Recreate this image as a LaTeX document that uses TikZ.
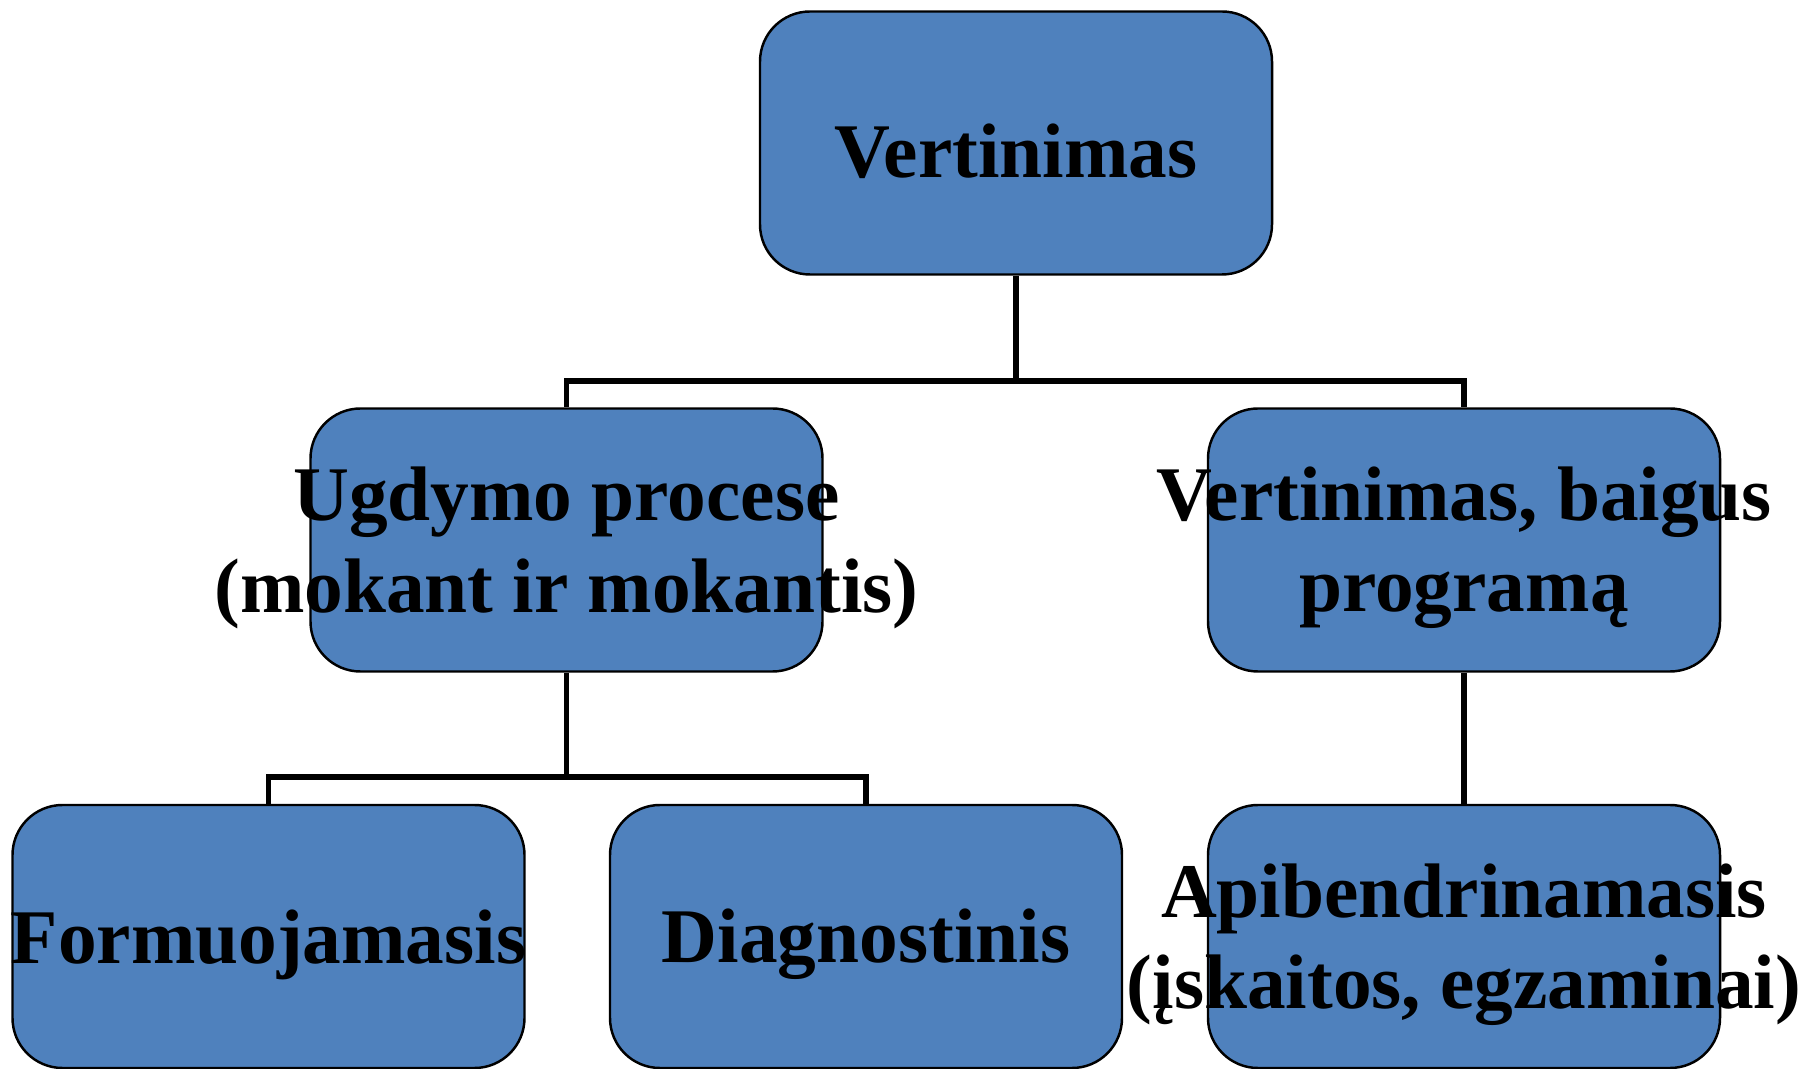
\documentclass[tikz,border=0pt]{standalone}
\usepackage{fontspec}
\setmainfont{Liberation Serif}
\usetikzlibrary{calc}
\definecolor{boxblue}{HTML}{4F81BD}
\tikzset{
  evalbox/.style={draw=black, line width=0.7pt, fill=boxblue, rounded corners=0.5cm,
    minimum width=5.12cm, minimum height=2.63cm, inner sep=0pt},
  txt/.style={font=\bfseries\fontsize{22}{26}\selectfont, align=center, inner sep=0pt, yshift=-0.08cm},
  link/.style={line width=1.6pt}
}
\begin{document}
\begin{tikzpicture}
  \useasboundingbox (0,0) rectangle (18.16,-10.69);
  % levels
  \node[evalbox, label={[txt]center:Vertinimas}] (vert) at (10.16,-1.43) {};
  \node[evalbox, label={[txt]center:{Ugdymo procese\\(mokant ir mokantis)}}] (ugd) at (5.665,-5.40) {};
  \node[evalbox, label={[txt]center:{Vertinimas, baigus\\programą}}] (baig) at (14.64,-5.40) {};
  \node[evalbox, label={[txt]center:Formuojamasis}] (form) at (2.685,-9.365) {};
  \node[evalbox, label={[txt]center:Diagnostinis}] (diag) at (8.66,-9.365) {};
  \node[evalbox, label={[txt]center:{Apibendrinamasis\\(įskaitos, egzaminai)}}] (apib) at (14.64,-9.365) {};
  % connectors
  \draw[link] (vert.south) -- ++(0,-1.05) coordinate (v1) -| (ugd.north);
  \draw[link] (v1) -| (baig.north);
  \draw[link] (ugd.south) -- ++(0,-1.04) coordinate (u1) -| (form.north);
  \draw[link] (u1) -| (diag.north);
  \draw[link] (baig.south) -- (apib.north);
\end{tikzpicture}
\end{document}
